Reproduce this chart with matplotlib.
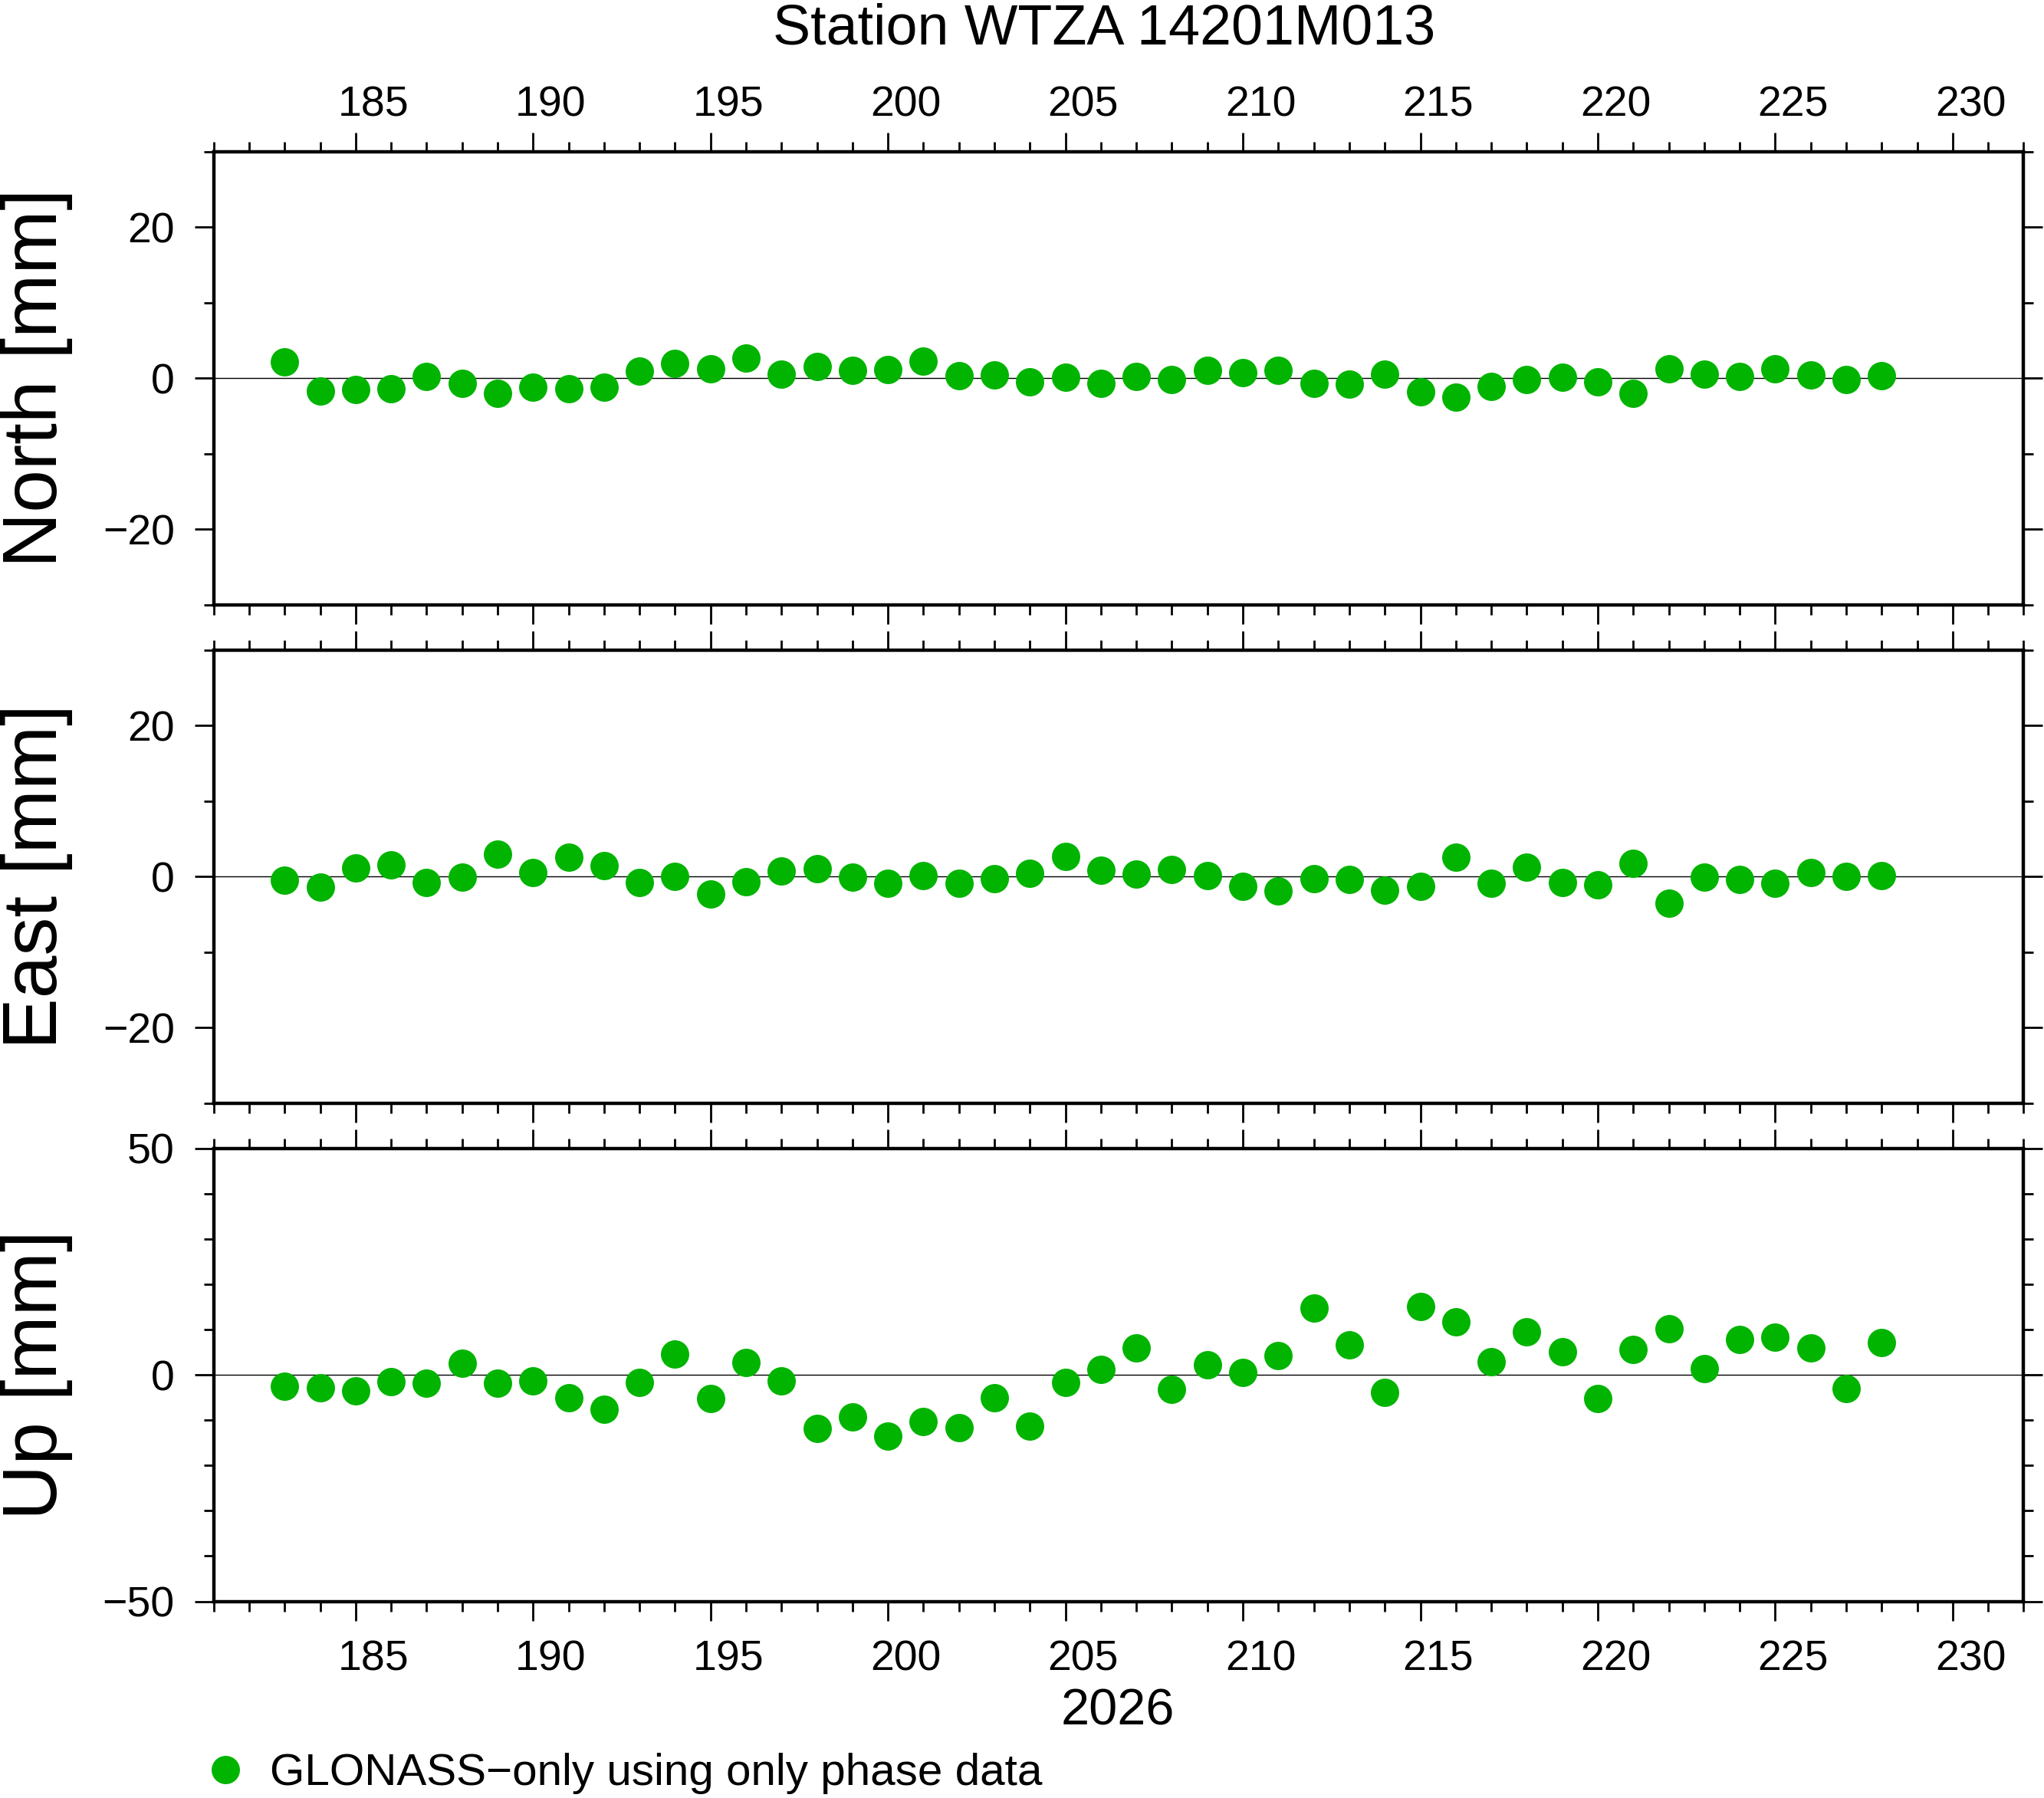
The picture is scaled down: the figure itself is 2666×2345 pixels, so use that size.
import matplotlib
matplotlib.use("Agg")
import matplotlib.pyplot as plt
from matplotlib.ticker import MultipleLocator
from matplotlib.transforms import ScaledTranslation

plt.rcParams["font.family"] = ["Liberation Sans", "DejaVu Sans"]

days = list(range(183, 229))

north_mm = [2.1, -1.7, -1.5, -1.4, 0.2, -0.7, -2.0, -1.2, -1.4, -1.2,
            0.9, 1.9, 1.2, 2.65, 0.5, 1.5, 1.0, 1.1, 2.2, 0.3,
            0.4, -0.5, 0.1, -0.7, 0.25, -0.2, 1.0, 0.7, 1.0, -0.7,
            -0.8, 0.5, -1.85, -2.55, -1.15, -0.2, 0.1, -0.5, -2.05, 1.2,
            0.5, 0.2, 1.2, 0.4, -0.15, 0.3]

east_mm = [-0.5, -1.4, 1.1, 1.5, -0.8, -0.1, 3.0, 0.5, 2.5, 1.4,
           -0.8, 0.0, -2.35, -0.7, 0.7, 1.0, -0.1, -0.9, 0.1, -0.9,
           -0.3, 0.4, 2.65, 0.8, 0.3, 0.9, 0.1, -1.35, -1.95, -0.3,
           -0.4, -1.85, -1.35, 2.5, -0.9, 1.2, -0.8, -1.15, 1.7, -3.55,
           -0.1, -0.4, -0.9, 0.5, 0.0, 0.1]

up_mm = [-2.5, -2.9, -3.6, -1.5, -1.9, 2.6, -1.9, -1.3, -5.05, -7.65,
         -1.7, 4.6, -5.3, 2.7, -1.3, -11.9, -9.3, -13.5, -10.3, -11.6,
         -5.05, -11.3, -1.7, 1.2, 5.9, -3.2, 2.2, 0.5, 4.2, 14.7,
         6.7, -3.9, 15.1, 11.65, 2.9, 9.5, 5.05, -5.3, 5.6, 10.2,
         1.3, 7.8, 8.3, 5.9, -3.1, 7.1]

panels = [
    ("North [mm]", north_mm, (-30, 30), 20, 10),
    ("East [mm]", east_mm, (-30, 30), 20, 10),
    ("Up [mm]", up_mm, (-50, 50), 50, 10),
]

title = "Station WTZA 14201M013"
year_label = "2026"
legend_label = "GLONASS\u2212only using only phase data"
dot_color = "#00b400"

W, H, DPI = 2666, 2345, 200
fig = plt.figure(figsize=(W / DPI, H / DPI), dpi=DPI)

left = 278.7 / W
width = (2639.4 - 278.7) / W
height = 590.8 / H
tops = [197.7, 847.7, 1497.7]

# day labels sit in the middle of the day, half a day right of the tick
day_px = width * W / 51.0
label_shift = ScaledTranslation(0.5 * day_px / DPI, 0, fig.dpi_scale_trans)

for i, (ylabel, values, ylim, major, minor) in enumerate(panels):
    bottom = 1 - (tops[i] + 590.8) / H
    ax = fig.add_axes([left, bottom, width, height])
    ax.axhline(0, color="black", lw=0.5, zorder=1)
    line, = ax.plot(days, values, "o", ms=13.3, color=dot_color, mec="none", zorder=3,
                    label=legend_label)
    ax.set_xlim(181, 232)
    ax.set_ylim(*ylim)
    ax.xaxis.set_major_locator(MultipleLocator(5))
    ax.xaxis.set_minor_locator(MultipleLocator(1))
    ax.yaxis.set_major_locator(MultipleLocator(major))
    ax.yaxis.set_minor_locator(MultipleLocator(minor))
    for sp in ax.spines.values():
        sp.set_linewidth(1.6)
    ax.tick_params(which="both", direction="out", top=True, bottom=True,
                   left=True, right=True, width=1.0, labelsize=20,
                   labelbottom=(i == 2), labeltop=(i == 0))
    ax.tick_params(which="major", length=9)
    ax.tick_params(which="minor", length=4.7)
    ax.tick_params(axis="y", pad=9.3)
    ax.tick_params(axis="x", pad=8.9)
    if i == 0:
        ax.tick_params(axis="x", pad=3.3)
    ax.set_ylabel(ylabel, fontsize=36)
    ax.yaxis.set_label_coords(-0.078, 0.5)
    for tick in ax.xaxis.get_major_ticks():
        for lbl in (tick.label1, tick.label2):
            lbl.set_transform(lbl.get_transform() + label_shift)

fig.text(1440 / W, 1 - 57 / H, title, ha="center", va="baseline", fontsize=26.5)
fig.text(1458 / W, 1 - 2250 / H, year_label, ha="center", va="baseline", fontsize=24)

fig.legend(handles=[line], loc="center left", bbox_to_anchor=(265 / W, 1 - 2313 / H),
           frameon=False, fontsize=21, handlelength=1.0, handletextpad=0.5,
           borderpad=0, borderaxespad=0, markerscale=1.0)

fig.savefig("out.png", dpi=DPI)
